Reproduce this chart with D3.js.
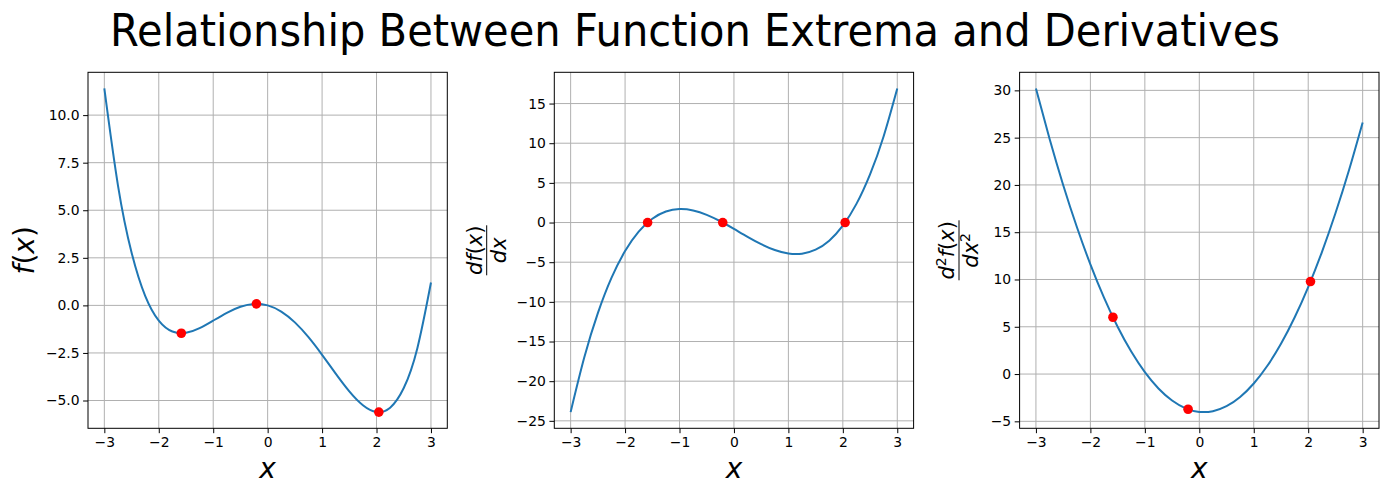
<!DOCTYPE html>
<html><head><meta charset="utf-8">
<script src="https://cdn.jsdelivr.net/npm/d3@7"></script>
<style>body{margin:0;background:#fff}svg{font-family:"DejaVu Sans",sans-serif}</style>
</head><body><svg id="c" width="1389" height="495"></svg>
<script>
const xs = [-3,-2.75,-2.5,-2.25,-2,-1.75,-1.5,-1.25,-1,-0.75,-0.5,-0.25,0,0.25,0.5,0.75,1,1.25,1.5,1.75,2,2.25,2.5,2.75,3];
const fVals = [11.4,6.312,2.781,0.503,-0.8,-1.375,-1.444,-1.198,-0.8,-0.388,-0.069,0.078,0,-0.325,-0.894,-1.672,-2.6,-3.588,-4.519,-5.247,-5.6,-5.375,-4.344,-2.248,1.2];
const d1Vals = [-23.9,-17.025,-11.425,-6.988,-3.6,-1.15,0.475,1.388,1.7,1.525,0.975,0.1625,-0.8,-1.8,-2.725,-3.463,-3.9,-3.925,-3.425,-2.288,-0.4,2.35,6.075,10.887,16.9];
const d2Vals = [30.2,24.875,20.0,15.575,11.6,8.075,5.0,2.375,0.2,-1.525,-2.8,-3.625,-4,-3.925,-3.4,-2.425,-1.0,0.875,3.2,5.975,9.2,12.875,17.0,21.575,26.6];
const critX = [-1.586,-0.206,2.042];
const critF = [-1.464,0.081,-5.608];
const critD1 = [0,0,0];
const critD2 = [6.007,-3.723,9.786];
const xTicks = [-3,-2,-1,0,1,2,3];
const fTicks = [-5,-2.5,0,2.5,5,7.5,10];
const d1Ticks = [-25,-20,-15,-10,-5,0,5,10,15];
const d2Ticks = [-5,0,5,10,15,20,25,30];
const title = "Relationship Between Function Extrema and Derivatives";

const svg = d3.select("#c");
svg.append("text").attr("x",695).attr("y",46).attr("text-anchor","middle")
  .attr("font-size",44).attr("textLength",1170).attr("lengthAdjust","spacingAndGlyphs")
  .attr("fill","#000").text(title);

const yTop=72.3, yBot=428.3;
const panels = [
  {left:88, right:447.3, vals:fVals, crit:critF, ticks:fTicks, fmt:d3.format(".1f"), label:"f"},
  {left:554.3, right:913.6, vals:d1Vals, crit:critD1, ticks:d1Ticks, fmt:d3.format("d"), label:"d1"},
  {left:1019.6, right:1379, vals:d2Vals, crit:critD2, ticks:d2Ticks, fmt:d3.format("d"), label:"d2"}
];

panels.forEach(p=>{
  const x = d3.scaleLinear().domain([-3.3,3.3]).range([p.left,p.right]);
  let lo = d3.min(p.vals), hi = d3.max(p.vals);
  if(p.label==="f") lo = -5.61;
  if(p.label==="d2") lo = -4.025;
  const m = (hi-lo)*0.05;
  const y = d3.scaleLinear().domain([lo-m,hi+m]).range([yBot,yTop]);
  const g = svg.append("g");
  g.selectAll(".gx").data(xTicks).join("line").attr("x1",d=>x(d)).attr("x2",d=>x(d))
    .attr("y1",yTop).attr("y2",yBot).attr("stroke","#b0b0b0").attr("stroke-width",1);
  g.selectAll(".gy").data(p.ticks).join("line").attr("y1",d=>y(d)).attr("y2",d=>y(d))
    .attr("x1",p.left).attr("x2",p.right).attr("stroke","#b0b0b0").attr("stroke-width",1);
  const line = d3.line().x((d,i)=>x(xs[i])).y(d=>y(d)).curve(d3.curveNatural);
  g.append("path").datum(p.vals).attr("d",line).attr("fill","none").attr("stroke","#1f77b4").attr("stroke-width",2);
  g.selectAll(".pt").data(p.crit).join("circle").attr("cx",(d,i)=>x(critX[i])).attr("cy",d=>y(d))
    .attr("r",4.8).attr("fill","#ff0000");
  const ax = d3.axisBottom(x).tickValues(xTicks).tickSize(4.9).tickPadding(3.5).tickFormat(d=>d3.format("d")(d).replace("-","\u2212"));
  const ga = g.append("g").attr("transform",`translate(0,${yBot})`).call(ax);
  const ay = d3.axisLeft(y).tickValues(p.ticks).tickSize(4.9).tickPadding(3.5).tickFormat(d=>p.fmt(d).replace("-","\u2212"));
  const gy = g.append("g").attr("transform",`translate(${p.left},0)`).call(ay);
  [ga,gy].forEach(a=>{a.select(".domain").remove();
    a.selectAll("text").attr("font-size",13.9).attr("font-family","DejaVu Sans").attr("fill","#000");
    a.selectAll("line").attr("stroke","#000").attr("stroke-width",1);});
  g.append("rect").attr("x",p.left).attr("y",yTop).attr("width",p.right-p.left).attr("height",yBot-yTop)
    .attr("fill","none").attr("stroke","#000").attr("stroke-width",1);
  g.append("text").attr("x",(p.left+p.right)/2).attr("y",478).attr("text-anchor","middle")
    .attr("font-size",28).attr("font-style","italic").text("x");
  const cy = (yTop+yBot)/2;
  if(p.label==="f"){
    const t = g.append("text").attr("transform",`translate(34,${cy}) rotate(-90)`).attr("text-anchor","middle").attr("font-size",28);
    t.append("tspan").attr("font-style","italic").text("f");
    t.append("tspan").text("(");
    t.append("tspan").attr("font-style","italic").text("x");
    t.append("tspan").text(")");
  } else {
    const lx = p.label==="d1" ? 486.7 : 959;
    const fg = g.append("g").attr("transform",`translate(${lx},${cy}) rotate(-90)`);
    const num = fg.append("text").attr("y",-5).attr("text-anchor","middle").attr("font-size",21);
    if(p.label==="d1"){
      num.append("tspan").attr("font-style","italic").text("df");
    } else {
      num.append("tspan").attr("font-style","italic").text("d");
      num.append("tspan").attr("font-size",14).attr("dy",-8).text("2");
      num.append("tspan").attr("font-style","italic").attr("dy",8).text("f");
    }
    num.append("tspan").text("(");
    num.append("tspan").attr("font-style","italic").text("x");
    num.append("tspan").text(")");
    const den = fg.append("text").attr("y",19).attr("text-anchor","middle").attr("font-size",21);
    den.append("tspan").attr("font-style","italic").text("dx");
    if(p.label==="d2") den.append("tspan").attr("font-size",14).attr("dy",-8).text("2");
    const w = p.label==="d1" ? 50 : 60;
    fg.append("line").attr("x1",-w/2).attr("x2",w/2).attr("y1",0).attr("y2",0).attr("stroke","#000").attr("stroke-width",1);
  }
});
</script></body></html>
